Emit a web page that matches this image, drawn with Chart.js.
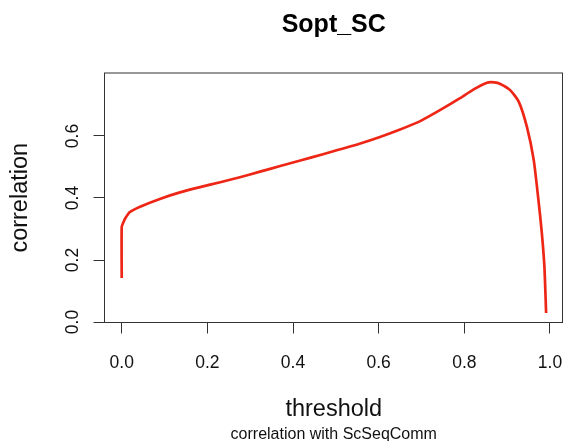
<!DOCTYPE html>
<html>
<head>
<meta charset="utf-8">
<script src="https://cdn.jsdelivr.net/npm/chart.js@4"></script>
<style>
  html, body { margin: 0; padding: 0; background: #fff; }
  #grafico { display: block; }
</style>
</head>
<body>
<canvas id="grafico" width="563" height="441"></canvas>
<script>
// umbral vs correlacion (Sopt_SC)
const umbral = [0, 0, 0.004, 0.008, 0.019, 0.043, 0.089, 0.136, 0.183, 0.23, 0.276, 0.323, 0.37, 0.417, 0.47, 0.51, 0.557, 0.603, 0.65, 0.697, 0.744, 0.79, 0.82, 0.853, 0.87, 0.884, 0.907, 0.927, 0.946, 0.962, 0.973, 0.981, 0.987, 0.991];
const correlacion = [0.142, 0.307, 0.322, 0.334, 0.355, 0.372, 0.397, 0.418, 0.435, 0.451, 0.467, 0.485, 0.503, 0.521, 0.541, 0.557, 0.576, 0.597, 0.621, 0.648, 0.684, 0.722, 0.749, 0.772, 0.773, 0.768, 0.748, 0.711, 0.63, 0.523, 0.394, 0.287, 0.178, 0.029];

const ticksX = [0, 0.2, 0.4, 0.6, 0.8, 1.0];
const ticksY = [0, 0.2, 0.4, 0.6];

const fuente = "'Liberation Sans', Arial, sans-serif";
const gris = '#333';

// caja alrededor del area del grafico
const caja = {
  id: 'caja',
  afterDraw(chart) {
    const { ctx, chartArea: a } = chart;
    ctx.save();
    ctx.strokeStyle = gris;
    ctx.lineWidth = 1;
    ctx.strokeRect(a.left, a.top, a.right - a.left - 0.5, a.bottom - a.top);
    ctx.restore();
  }
};

const puntos = umbral.map((x, i) => ({ x: x, y: correlacion[i] }));

new Chart(document.getElementById('grafico'), {
  type: 'line',
  data: {
    datasets: [{
      data: puntos,
      borderColor: 'rgb(238,38,22)',
      borderWidth: 2.7,
      pointRadius: 0,
      tension: 0.2,
      fill: false
    }]
  },
  options: {
    responsive: false,
    animation: false,
    layout: { padding: 0 },
    plugins: {
      legend: { display: false },
      tooltip: { enabled: false },
      title: {
        display: true,
        text: 'Sopt_SC',
        fullSize: false,
        color: '#000',
        font: { family: fuente, size: 25, weight: 'bold', lineHeight: 1.2 },
        padding: { top: 10, bottom: 33 }
      },
      subtitle: {
        display: true,
        text: 'correlation with ScSeqComm',
        position: 'bottom',
        fullSize: false,
        color: '#111',
        font: { family: fuente, size: 16, lineHeight: 0.8 },
        padding: 0
      }
    },
    scales: {
      x: {
        type: 'linear',
        min: -0.0402,
        max: 1.0304,
        afterBuildTicks: (s) => { s.ticks = ticksX.map(v => ({ value: v })); },
        afterFit: (s) => {
          s.height = 105.7;
          s.paddingLeft = 0;
          s.paddingRight = 0;
        },
        grid: { display: true, drawOnChartArea: false, tickLength: 11, color: gris },
        border: { display: false },
        ticks: {
          color: '#111',
          padding: 19,
          maxRotation: 0,
          font: { family: fuente, size: 17.5 },
          callback: (v) => Number(v).toFixed(1)
        },
        title: {
          display: true,
          text: 'threshold',
          color: '#111',
          font: { family: fuente, size: 23.5, lineHeight: 1.2 },
          padding: { top: 0, bottom: 5 }
        }
      },
      y: {
        min: -0.0016,
        max: 0.8032,
        afterBuildTicks: (s) => { s.ticks = ticksY.map(v => ({ value: v })); },
        afterFit: (s) => {
          s.width = 104.5;
          s.paddingTop = 0;
          s.paddingBottom = 0;
        },
        grid: { display: true, drawOnChartArea: false, tickLength: 11, color: gris },
        border: { display: false },
        ticks: {
          color: '#111',
          padding: 8,
          minRotation: 90,
          maxRotation: 90,
          crossAlign: 'center',
          font: { family: fuente, size: 17.5 },
          callback: (v) => Number(v).toFixed(1)
        },
        title: {
          display: true,
          text: 'correlation',
          color: '#111',
          font: { family: fuente, size: 23.5, lineHeight: 1.2 },
          padding: { top: 6, bottom: 0 }
        }
      }
    }
  },
  plugins: [caja]
});
</script>
</body>
</html>
